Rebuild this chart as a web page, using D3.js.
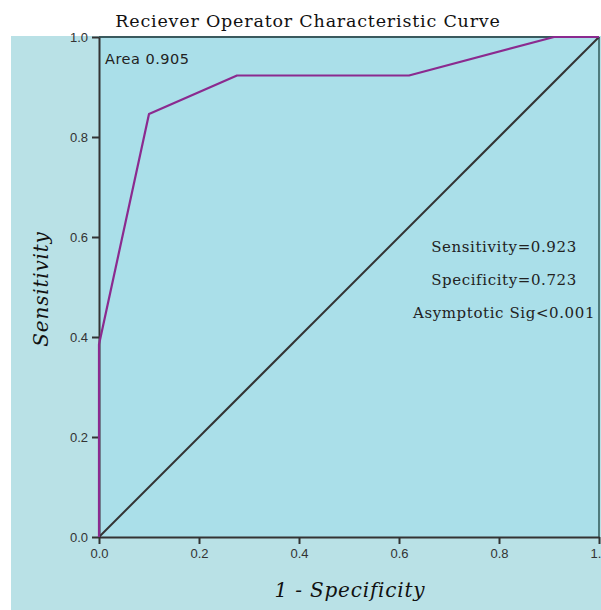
<!DOCTYPE html>
<html>
<head>
<meta charset="utf-8">
<script src="https://cdn.jsdelivr.net/npm/d3@7"></script>
<style>
  body { margin: 0; background: #fff; }
  svg { display: block; }
</style>
</head>
<body>
<svg id="chart" width="601" height="610"></svg>
<script>
// ROC curve points (1 - specificity, sensitivity)
var fpr = [0, 0, 0.1, 0.276, 0.62, 0.91, 1];
var tpr = [0, 0.385, 0.846, 0.923, 0.923, 1, 1];
var ticks = [0, 0.2, 0.4, 0.6, 0.8, 1];
var stats = ["Sensitivity=0.923", "Specificity=0.723", "Asymptotic Sig<0.001"];
var areaLabel = "Area 0.905";

var svg = d3.select("#chart");
var margin = {left: 99, top: 37, right: 2, bottom: 73};
var w = 601 - margin.left - margin.right;
var h = 610 - margin.top - margin.bottom;

var x = d3.scaleLinear().domain([0, 1]).range([margin.left, margin.left + w]);
var y = d3.scaleLinear().domain([0, 1]).range([margin.top + h, margin.top]);

// outer panel
svg.append("rect")
    .attr("x", 11).attr("y", 36)
    .attr("width", 590).attr("height", 574)
    .attr("fill", "#b9e1e6");

// plot area
svg.append("rect")
    .attr("x", x(0)).attr("y", y(1))
    .attr("width", x(1) - x(0)).attr("height", y(0) - y(1))
    .attr("fill", "#aadfe9");

svg.append("text")
    .attr("x", 308).attr("y", 27)
    .attr("text-anchor", "middle")
    .attr("font-family", "DejaVu Serif")
    .attr("font-size", 17.5)
    .attr("letter-spacing", 0.8)
    .attr("fill", "#111")
    .text("Reciever Operator Characteristic Curve");

// frame top and right
svg.append("line")
    .attr("x1", x(0)).attr("x2", x(1)).attr("y1", y(1)).attr("y2", y(1))
    .attr("stroke", "#3a5a5e").attr("stroke-width", 2);
svg.append("line")
    .attr("x1", x(1)).attr("x2", x(1)).attr("y1", y(1)).attr("y2", y(0))
    .attr("stroke", "#4f7a7c").attr("stroke-width", 2);

// reference diagonal
svg.append("line")
    .attr("x1", x(0)).attr("y1", y(0)).attr("x2", x(1)).attr("y2", y(1))
    .attr("stroke", "#333").attr("stroke-width", 2);

// axes
var fmt = d3.format(".1f");
var xAxis = svg.append("g")
    .attr("transform", "translate(0," + y(0) + ")")
    .call(d3.axisBottom(x).tickValues(ticks).tickFormat(fmt).tickSize(7).tickPadding(5).tickSizeOuter(0));
var yAxis = svg.append("g")
    .attr("transform", "translate(" + x(0) + ",0)")
    .call(d3.axisLeft(y).tickValues(ticks).tickFormat(fmt).tickSize(7).tickPadding(4).tickSizeOuter(0));

[xAxis, yAxis].forEach(function(g) {
  g.select(".domain").attr("stroke", "#333").attr("stroke-width", 2);
  g.selectAll(".tick line").attr("stroke", "#333").attr("stroke-width", 2);
  g.selectAll(".tick text")
      .attr("font-family", "Liberation Sans, Arial, sans-serif")
      .attr("font-size", 13)
      .attr("fill", "#333");
});

// ROC line
var pts = fpr.map(function(d, i) { return [d, tpr[i]]; });
svg.append("path")
    .datum(pts)
    .attr("fill", "none")
    .attr("stroke", "#8b2a8f")
    .attr("stroke-width", 2.2)
    .attr("stroke-linejoin", "round")
    .attr("d", d3.line().x(function(d) { return x(d[0]); }).y(function(d) { return y(d[1]); }));

// annotations
svg.append("text")
    .attr("x", 105).attr("y", 64)
    .attr("font-family", "DejaVu Sans, sans-serif")
    .attr("font-size", 14.5)
    .attr("letter-spacing", 0.5)
    .attr("fill", "#222")
    .text(areaLabel);

svg.selectAll("text.stat")
    .data(stats)
    .enter().append("text")
    .attr("class", "stat")
    .attr("x", 504)
    .attr("y", function(d, i) { return 252 + i * 33; })
    .attr("text-anchor", "middle")
    .attr("font-family", "DejaVu Serif")
    .attr("font-size", 15)
    .attr("letter-spacing", 0.6)
    .attr("fill", "#222")
    .text(function(d) { return d; });

// axis titles
svg.append("text")
    .attr("x", 350).attr("y", 597)
    .attr("text-anchor", "middle")
    .attr("font-family", "DejaVu Serif")
    .attr("font-style", "italic")
    .attr("font-size", 20)
    .attr("letter-spacing", 0.8)
    .attr("fill", "#111")
    .text("1 - Specificity");

svg.append("text")
    .attr("transform", "translate(48,289) rotate(-90)")
    .attr("text-anchor", "middle")
    .attr("font-family", "DejaVu Serif")
    .attr("font-style", "italic")
    .attr("font-size", 20)
    .attr("letter-spacing", 0.8)
    .attr("fill", "#111")
    .text("Sensitivity");
</script>
</body>
</html>
